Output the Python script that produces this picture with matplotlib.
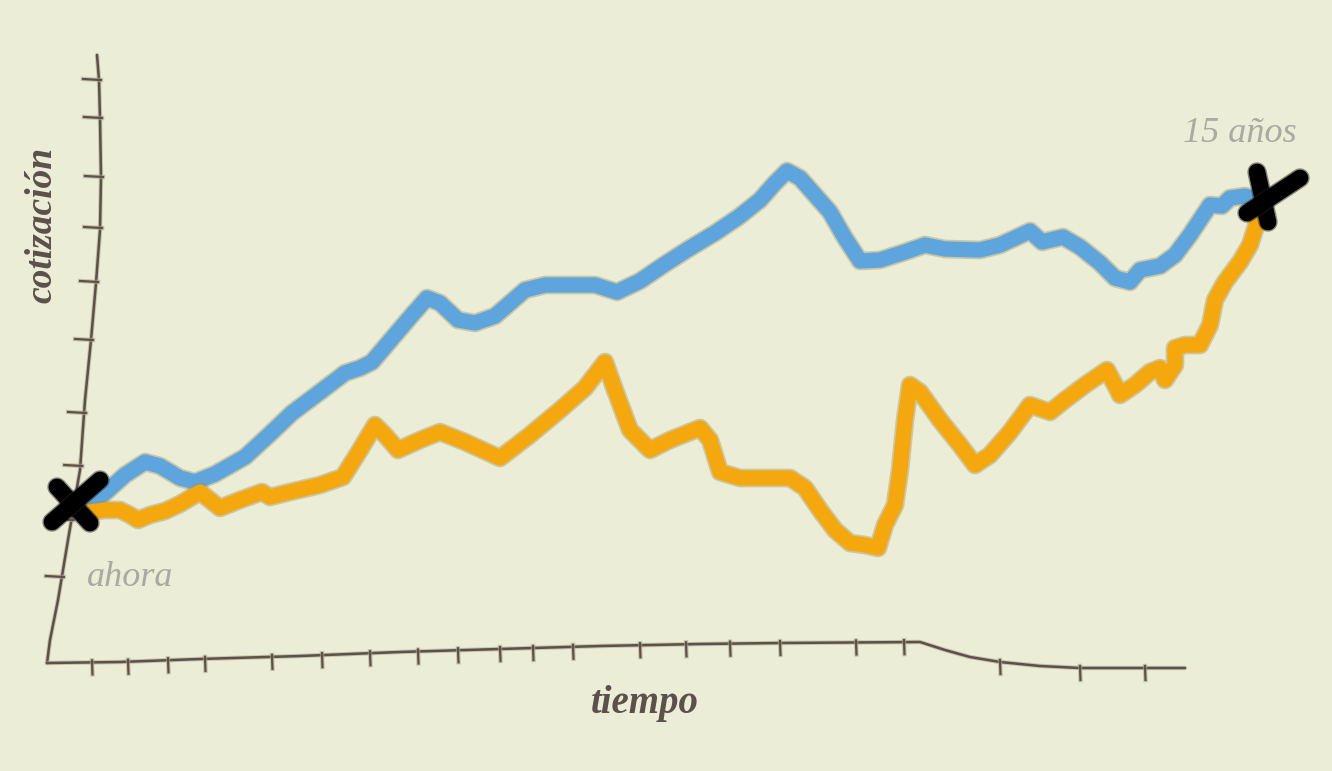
import numpy as np
import matplotlib
matplotlib.use("Agg")
import matplotlib.pyplot as plt
import matplotlib.patheffects as pe

# --- datos (tiempo en unidades arbitrarias, cotizacion idem) ---
t_azul = [-0.2, 1.5, 3.5, 5.5, 7.0, 9.0, 10.5, 12.5, 15.5, 18.0, 20.2, 23.0, 25.5,
          27.0, 28.2, 30.5, 32.2, 33.7, 35.0, 36.8, 38.5, 40.5, 42.0, 43.5, 45.5,
          50.5, 52.7, 55.0, 57.5, 60.0, 62.5, 65.0, 67.0, 68.5, 69.7, 71.0, 72.5,
          74.0, 75.5, 77.0, 79.0, 81.5, 83.5, 85.5, 89.0, 91.0, 92.5, 94.0, 95.2,
          97.3, 99.0, 101.0, 102.5, 104.0, 105.0, 107.0, 108.5, 110.0, 112.0,
          113.2, 114.0, 115.5, 116.8]
c_azul = [16.5, 17.7, 19.5, 20.8, 20.4, 19.2, 18.8, 19.6, 21.3, 23.6, 25.7, 27.8,
          29.7, 30.2, 30.8, 33.5, 35.5, 37.2, 36.7, 35.0, 34.7, 35.4, 36.7, 38.0,
          38.5, 38.5, 37.8, 38.9, 40.6, 42.2, 43.7, 45.4, 47.0, 48.7, 49.9, 49.2,
          47.5, 45.8, 43.2, 40.9, 41.0, 41.8, 42.5, 42.1, 42.0, 42.5, 43.2, 43.9,
          42.8, 43.3, 42.3, 40.7, 39.2, 38.8, 40.0, 40.4, 41.5, 43.5, 46.5, 46.4,
          47.2, 47.4, 47.0]

t_naranja = [0, 1.5, 3.0, 4.0, 4.8, 6.0, 7.5, 9.0, 11.0, 12.0, 13.0, 15.0, 17.2,
             18.0, 20.0, 23.0, 25.3, 27.0, 28.5, 29.5, 30.8, 33.0, 35.0, 37.5,
             41.0, 44.0, 47.0, 49.5, 51.5, 52.5, 54.0, 56.0, 58.0, 61.0, 62.0,
             63.0, 65.0, 70.0, 71.5, 73.0, 74.5, 76.0, 77.5, 78.8, 79.5, 80.5,
             81.0, 81.5, 82.0, 83.0, 85.0, 87.0, 88.5, 90.0, 92.0, 94.0, 96.0,
             97.5, 99.5, 101.7, 102.5, 103.0, 104.5, 106.0, 107.0, 107.5, 108.5,
             108.5, 109.5, 111.0, 112.0, 112.5, 113.5, 115.0, 116.0, 116.8]
c_naranja = [15.8, 16.0, 16.0, 15.5, 15.0, 15.5, 15.9, 16.6, 17.8, 17.0, 16.2,
             17.0, 17.8, 17.3, 17.8, 18.5, 19.3, 22.0, 24.5, 23.5, 22.0, 23.0,
             23.8, 22.8, 21.2, 23.5, 26.0, 28.2, 30.8, 28.0, 24.0, 22.0, 23.0,
             24.2, 23.0, 19.8, 19.2, 19.2, 18.2, 16.0, 14.0, 12.7, 12.5, 12.2,
             14.5, 16.5, 20.0, 25.0, 28.5, 27.8, 25.0, 22.5, 20.5, 21.5, 23.8,
             26.5, 25.8, 27.0, 28.5, 30.0, 28.5, 27.5, 28.5, 29.8, 30.2, 29.0,
             30.5, 32.2, 32.5, 32.5, 34.5, 37.0, 38.8, 40.8, 42.5, 45.0]

# ejes dibujados a mano
eje_y_t = [0.7, 0.9, 1.0, 1.1, 1.0, 0.6, 0.1, -0.5, -1.0, -2.2, -3.2, -4.0, -4.3]
eje_y_c = [61.5, 59.0, 55.2, 49.3, 44.0, 38.7, 33.0, 27.0, 20.0, 13.0, 7.0, 3.0, 0.7]
ticks_y = [59.0, 55.2, 49.3, 44.2, 38.8, 33.0, 25.7, 20.4, 15.0, 9.3]

eje_x_t = [-4.3, 3, 11, 21, 31, 41, 51, 61, 69, 83, 85.5, 88, 91, 95, 99, 109.5]
eje_x_c = [0.7, 0.8, 1.1, 1.4, 1.8, 2.1, 2.4, 2.6, 2.7, 2.8, 2.0, 1.3, 0.8, 0.4, 0.2, 0.2]
ticks_x = [0.2, 3.8, 7.8, 11.5, 18.2, 23.2, 28, 32.8, 36.8, 41, 44.3, 48.3, 55,
           59.6, 64, 69, 76.6, 81.4, 91, 99, 105.5]

# cruces de inicio y fin
cruz_ini = [((-3.3, 18.3), (0.0, 14.7)), ((1.0, 19.0), (-3.8, 14.8))]
cruz_fin = [((116.7, 49.8), (117.8, 44.8)), ((121.0, 49.2), (115.7, 45.7))]

fondo = "#ebedd6"
azul = "#5fa5dd"
naranja = "#f5a80e"
tinta = "#5b504b"
gris = "#aaa9a2"

fig = plt.figure(figsize=(13.32, 7.71), dpi=100)
fig.patch.set_facecolor(fondo)
ax = fig.add_axes([0, 0, 1, 1])
ax.set_facecolor(fondo)
ax.set_xlim(-9, 124.2)
ax.set_ylim(-10.1, 67)
ax.axis('off')

sombra = [pe.Stroke(linewidth=13.5, foreground="#9a8f60", alpha=0.4), pe.Normal()]
sombra_eje = [pe.Stroke(linewidth=3.2, foreground="#b0aa88", alpha=0.6), pe.Normal()]
sombra_cruz = [pe.Stroke(linewidth=14, foreground="#222222", alpha=0.5), pe.Normal()]

# eje y
ax.plot(eje_y_t, eje_y_c, color=tinta, lw=1.8, solid_capstyle='round', path_effects=sombra_eje)
xs_eje = np.interp(ticks_y, eje_y_c[::-1], eje_y_t[::-1])
for xe, yt in zip(xs_eje, ticks_y):
    ax.plot([xe - 1.6, xe + 0.2], [yt + 0.1, yt], color=tinta, lw=1.6, path_effects=sombra_eje)

# eje x
ax.plot(eje_x_t, eje_x_c, color=tinta, lw=1.8, solid_capstyle='round', path_effects=sombra_eje)
ys_eje = np.interp(ticks_x, eje_x_t, eje_x_c)
for xt, ye in zip(ticks_x, ys_eje):
    ax.plot([xt, xt + 0.05], [ye + 0.2, ye - 1.2], color=tinta, lw=1.6, path_effects=sombra_eje)

# series
ax.plot(t_azul, c_azul, color=azul, lw=11, solid_joinstyle='round',
        solid_capstyle='round', path_effects=sombra)
ax.plot(t_naranja, c_naranja, color=naranja, lw=11, solid_joinstyle='round',
        solid_capstyle='round', path_effects=sombra)

for (p0, p1) in cruz_ini + cruz_fin:
    ax.plot([p0[0], p1[0]], [p0[1], p1[1]], color="black", lw=12,
            solid_capstyle='round', path_effects=sombra_cruz)

fuente = "Liberation Serif"
ax.text(115, 53.7, "15 años", color=gris, fontsize=26, family=fuente,
        style='italic', ha='center', va='center')
ax.text(4, 9.3, "ahora", color=gris, fontsize=26, family=fuente,
        style='italic', ha='center', va='center')
ax.text(-4.8, 44.5, "cotización", color=tinta, fontsize=27, family=fuente,
        style='italic', weight='bold', rotation=90, ha='center', va='center')
ax.text(55.5, -3.3, "tiempo", color=tinta, fontsize=28, family=fuente,
        style='italic', weight='bold', ha='center', va='center')

fig.savefig("out.png", dpi=100, facecolor=fondo)
